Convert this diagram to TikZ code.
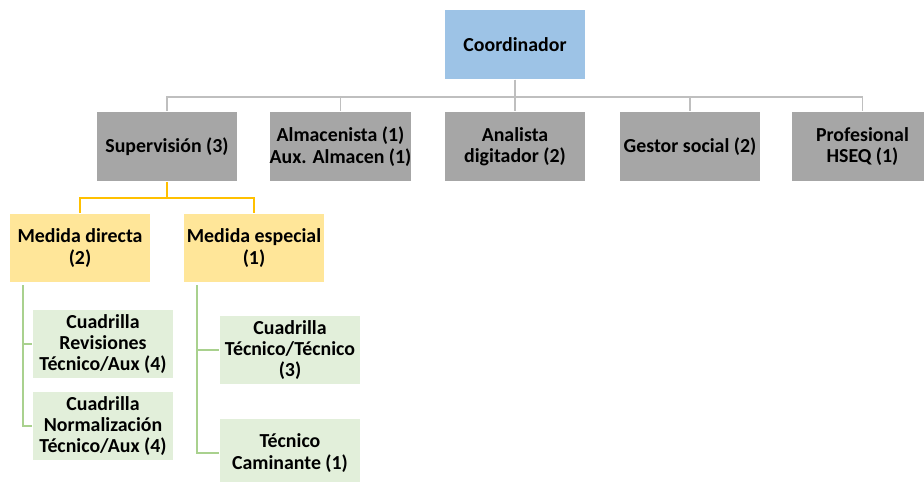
\documentclass[tikz,border=0pt]{standalone}
\usepackage{fontspec}
\setmainfont{Carlito}
\usetikzlibrary{positioning}
\definecolor{boxblue}{RGB}{157,195,230}
\definecolor{boxgray}{RGB}{166,166,166}
\definecolor{boxyellow}{RGB}{255,230,153}
\definecolor{boxgreen}{RGB}{226,239,218}
\definecolor{linegray}{RGB}{191,191,191}
\definecolor{lineyellow}{RGB}{255,192,0}
\definecolor{linegreen}{RGB}{169,209,142}
\begin{document}
\begin{tikzpicture}[
            x = 0.02cm, y = -0.02cm, % one unit is one pixel
            line width = 1.1pt,
            every node/.style = {font=\bfseries\fontsize{11.3}{12.2}\selectfont,
                                 align = center, inner sep = 0pt}
        ]

        \tikzstyle{unit}=[
            minimum width = 2.82cm,
            minimum height = 1.38cm
        ]

        \clip (0,0) rectangle (924,482);

        % top level
        \node[unit, fill=boxblue] (C) at (515,44.5) {Coordinador};

        % second level
        \node[unit, fill=boxgray] (S) at (167,146.5) {Supervisión (3)};
        \node[unit, fill=boxgray] (A) at (340.5,146.5) {Almacenista (1)\\Aux. Almacen (1)};
        \node[unit, fill=boxgray] (D) at (515,146.5) {Analista\\digitador (2)};
        \node[unit, fill=boxgray] (G) at (690,146.5) {Gestor social (2)};
        \node[unit, fill=boxgray] (P) at (862.5,146.5) {Profesional\\HSEQ (1)};

        \foreach \n in {S,A,D,G,P}
            \draw[linegray] (C.south) -- ++(0,17) -| (\n.north);

        % measurement
        \node[unit, fill=boxyellow] (MD) at (80,248) {Medida directa\\(2)};
        \node[unit, fill=boxyellow] (ME) at (254,248) {Medida especial\\(1)};

        \draw[lineyellow] (S.south) -- ++(0,16) -| (MD.north);
        \draw[lineyellow] (S.south) -- ++(0,16) -| (ME.north);

        % crews
        \node[unit, fill=boxgreen] (CR) at (103,344) {Cuadrilla\\Revisiones\\Técnico/Aux (4)};
        \node[unit, fill=boxgreen] (CN) at (103,426) {Cuadrilla\\Normalización\\Técnico/Aux (4)};
        \node[unit, fill=boxgreen] (CT) at (290,350) {Cuadrilla\\Técnico/Técnico\\(3)};
        \node[unit, fill=boxgreen] (TC) at (290,453) {Técnico\\Caminante (1)};

        \draw[linegreen] (MD.south west) ++(14,2) |- (CR.west);
        \draw[linegreen] (MD.south west) ++(14,2) |- (CN.west);
        \draw[linegreen] (ME.south west) ++(14,2) |- (CT.west);
        \draw[linegreen] (ME.south west) ++(14,2) |- (TC.west);

\end{tikzpicture}
\end{document}
